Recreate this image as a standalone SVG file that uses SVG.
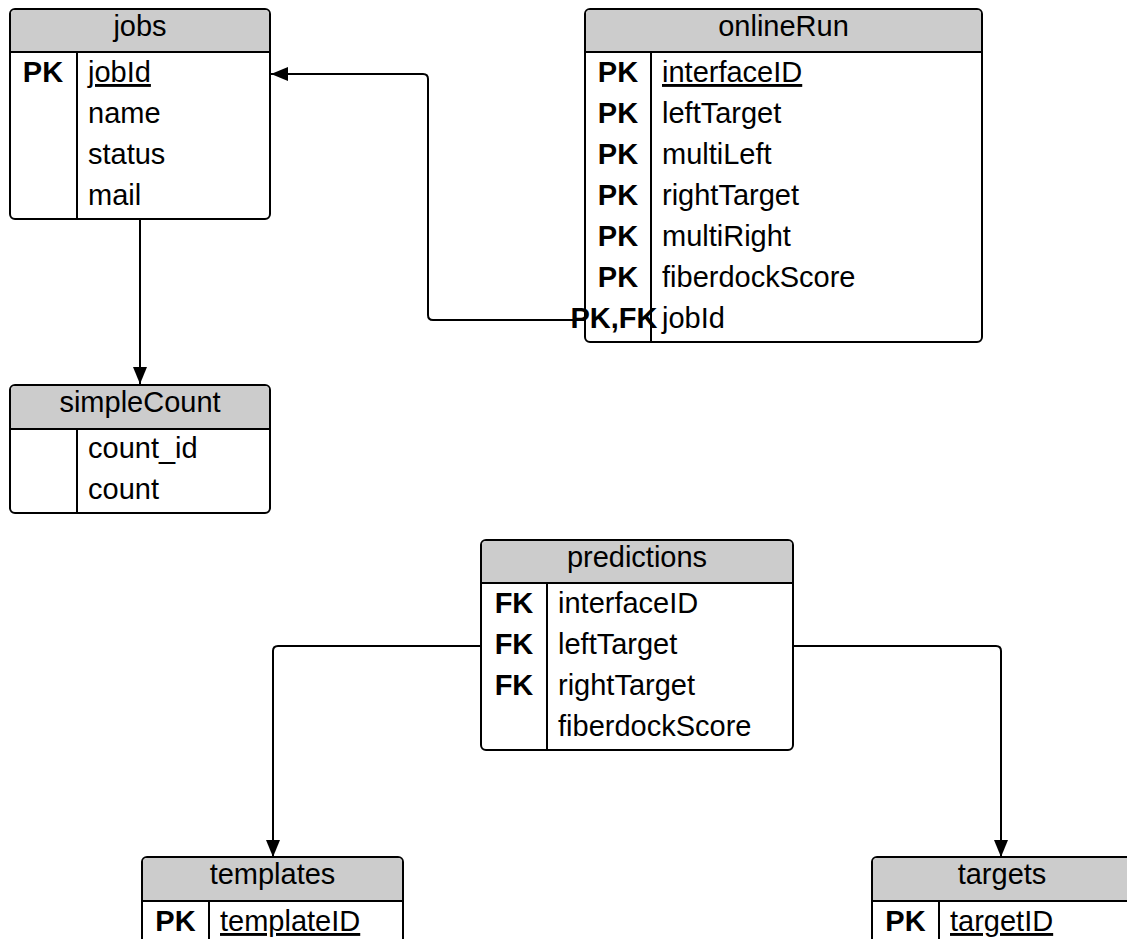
<svg xmlns="http://www.w3.org/2000/svg" width="1127" height="939" viewBox="0 0 1127 939">
<style>
text{font-family:"Liberation Sans",Arial,sans-serif;font-size:29px;fill:#000}
.hdr{text-anchor:middle}
.key{font-weight:bold;text-anchor:middle}
.pk{text-decoration:underline}
.box{fill:#fff;stroke:#000;stroke-width:2}
.head{fill:#cccccc;stroke:none}
.ln{stroke:#000;stroke-width:2;fill:none}
.conn{stroke:#000;stroke-width:2;fill:none;marker-end:url(#arr)}
</style>
<defs>
<marker id="arr" markerUnits="userSpaceOnUse" markerWidth="18" markerHeight="14" refX="17" refY="7" orient="auto">
<path d="M0,0 L17,7 L0,14 Z" fill="#000"/>
</marker>
</defs>

<g id="connectors">
<path class="conn" d="M140,219 L140,384"/>
<path class="conn" d="M585,320 L433,320 Q428,320 428,315 L428,79 Q428,74 423,74 L271,74"/>
<path class="conn" d="M481,646 L278,646 Q273,646 273,651 L273,857"/>
<path class="conn" d="M793,646 L996,646 Q1001,646 1001,651 L1001,857"/>
</g>

<g id="jobs">
<rect class="box" x="10" y="9" width="260" height="210" rx="5"/>
<path class="head" d="M15,10 H265 Q269,10 269,14 V52 H11 V14 Q11,10 15,10 Z"/>
<line class="ln" x1="10" y1="52" x2="270" y2="52"/>
<line class="ln" x1="77" y1="52" x2="77" y2="219"/>
<text class="hdr" x="140" y="36">jobs</text>
<text class="key" x="43" y="82">PK</text>
<text class="pk" x="88" y="82">jobId</text>
<text x="88" y="123">name</text>
<text x="88" y="164">status</text>
<text x="88" y="205">mail</text>
</g>

<g id="onlineRun">
<rect class="box" x="585" y="9" width="397" height="333" rx="5"/>
<path class="head" d="M590,10 H977 Q981,10 981,14 V52 H586 V14 Q586,10 590,10 Z"/>
<line class="ln" x1="585" y1="52" x2="982" y2="52"/>
<line class="ln" x1="651" y1="52" x2="651" y2="342"/>
<text class="hdr" x="783.5" y="36">onlineRun</text>
<text class="key" x="618" y="82">PK</text>
<text class="pk" x="662" y="82">interfaceID</text>
<text class="key" x="618" y="123">PK</text>
<text x="662" y="123">leftTarget</text>
<text class="key" x="618" y="164">PK</text>
<text x="662" y="164">multiLeft</text>
<text class="key" x="618" y="205">PK</text>
<text x="662" y="205">rightTarget</text>
<text class="key" x="618" y="246">PK</text>
<text x="662" y="246">multiRight</text>
<text class="key" x="618" y="287">PK</text>
<text x="662" y="287">fiberdockScore</text>
<text class="key" x="614" y="328">PK,FK</text>
<text x="662" y="328">jobId</text>
</g>

<g id="simpleCount">
<rect class="box" x="10" y="385" width="260" height="128" rx="5"/>
<path class="head" d="M15,386 H265 Q269,386 269,390 V429 H11 V390 Q11,386 15,386 Z"/>
<line class="ln" x1="10" y1="429" x2="270" y2="429"/>
<line class="ln" x1="77" y1="429" x2="77" y2="513"/>
<text class="hdr" x="140" y="412">simpleCount</text>
<text x="88" y="458">count_id</text>
<text x="88" y="499">count</text>
</g>

<g id="predictions">
<rect class="box" x="481" y="540" width="312" height="210" rx="5"/>
<path class="head" d="M486,541 H788 Q792,541 792,545 V583 H482 V545 Q482,541 486,541 Z"/>
<line class="ln" x1="481" y1="583" x2="793" y2="583"/>
<line class="ln" x1="547" y1="583" x2="547" y2="750"/>
<text class="hdr" x="637" y="567">predictions</text>
<text class="key" x="514" y="613">FK</text>
<text x="558" y="613">interfaceID</text>
<text class="key" x="514" y="654">FK</text>
<text x="558" y="654">leftTarget</text>
<text class="key" x="514" y="695">FK</text>
<text x="558" y="695">rightTarget</text>
<text x="558" y="736">fiberdockScore</text>
</g>

<g id="templates">
<rect class="box" x="142" y="857" width="261" height="120" rx="5"/>
<path class="head" d="M147,858 H398 Q402,858 402,862 V901 H143 V862 Q143,858 147,858 Z"/>
<line class="ln" x1="142" y1="901" x2="403" y2="901"/>
<line class="ln" x1="209" y1="901" x2="209" y2="977"/>
<text class="hdr" x="272.5" y="884">templates</text>
<text class="key" x="175.5" y="931">PK</text>
<text class="pk" x="220" y="931">templateID</text>
</g>

<g id="targets">
<rect class="box" x="872" y="857" width="260" height="120" rx="5"/>
<path class="head" d="M877,858 H1127 Q1131,858 1131,862 V901 H873 V862 Q873,858 877,858 Z"/>
<line class="ln" x1="872" y1="901" x2="1132" y2="901"/>
<line class="ln" x1="939" y1="901" x2="939" y2="977"/>
<text class="hdr" x="1002" y="884">targets</text>
<text class="key" x="905.5" y="931">PK</text>
<text class="pk" x="950" y="931">targetID</text>
</g>
</svg>
